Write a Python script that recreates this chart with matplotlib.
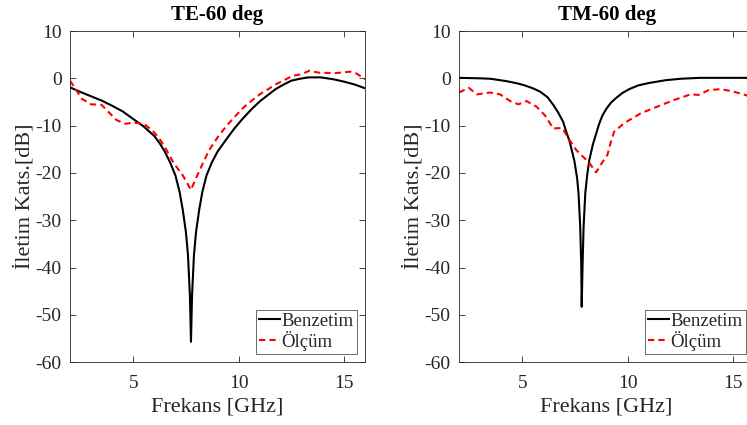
import numpy as np
import matplotlib.pyplot as plt

plt.rcParams['font.family'] = ['Liberation Serif', 'DejaVu Serif']
plt.rcParams['axes.unicode_minus'] = False

# TE-60 deg: simulasyon (benzetim) ve olcum degerleri
te_sim_f = [2, 2.5, 3, 3.5, 4, 4.5, 5, 5.5, 6, 6.25, 6.5, 6.75, 7.0, 7.2, 7.35, 7.5, 7.6,
            7.69, 7.74, 7.79, 7.88, 7.98, 8.13, 8.28, 8.48, 8.73, 9.0, 9.4, 9.8,
            10.2, 10.6, 11.0, 11.4, 11.75, 12.1, 12.5, 12.9, 13.3, 13.9, 14.5, 15.0,
            15.5, 16]
te_sim = [-1.9, -2.9, -3.8, -4.7, -5.8, -7.0, -8.6, -10.2, -12.2, -13.7, -15.5, -17.8,
          -20.5, -24.0, -27.8, -32.5, -37.5, -46.0, -55.7, -46.0, -37.5, -32.5, -27.8,
          -24.0, -20.5, -17.8, -15.5, -13.0, -10.6, -8.5, -6.6, -4.9, -3.5, -2.3, -1.4,
          -0.5, -0.1, 0.2, 0.2, -0.2, -0.7, -1.3, -2.1]
te_meas_f = [2, 2.3, 2.55, 3.0, 3.5, 3.8, 4.2, 4.6, 5.05, 5.5, 5.9, 6.2, 6.5, 6.9, 7.35,
             7.74, 7.97, 8.3, 8.6, 9.0, 9.4, 9.8, 10.2, 10.6, 11.0, 11.4, 11.75, 12.2,
             12.55, 13.0, 13.35, 13.8, 14.6, 15.3, 15.6, 16]
te_meas = [-0.5, -2.5, -4.3, -5.5, -5.6, -7.0, -8.8, -9.6, -9.4, -9.6, -11.0, -12.5,
           -14.5, -17.8, -20.5, -23.6, -21.2, -18.0, -15.2, -12.5, -10.2, -8.2, -6.3,
           -4.8, -3.4, -2.3, -1.3, -0.3, 0.5, 0.9, 1.6, 1.2, 1.1, 1.4, 1.0, -0.2]

# TM-60 deg
tm_sim_f = [2, 3, 3.5, 4.25, 4.7, 5.05, 5.5, 5.84, 6.2, 6.47, 6.7, 6.94, 7.08, 7.25, 7.47,
            7.6, 7.67, 7.75, 7.8, 7.82, 7.86, 7.91, 7.99, 8.08, 8.18, 8.35, 8.5, 8.65,
            8.8, 8.98, 9.2, 9.44, 9.75, 10.07, 10.5, 11.0, 11.8, 12.5, 13.4, 14.5, 15.6, 16]
tm_sim = [0.1, 0.0, -0.1, -0.6, -1.0, -1.4, -2.1, -2.8, -4.0, -5.6, -7.2, -9.2, -11.2,
          -13.4, -17.4, -21.0, -24.3, -31.4, -39.8, -48.3, -39.8, -31.4, -24.3, -20.5,
          -17.3, -14.0, -11.8, -9.6, -7.9, -6.5, -5.2, -4.2, -3.1, -2.3, -1.5, -1.0,
          -0.4, -0.1, 0.1, 0.1, 0.1, 0.0]
tm_meas_f = [2, 2.46, 2.85, 3.48, 3.95, 4.42, 4.82, 5.2, 5.68, 6.07, 6.47, 6.9, 7.24,
             7.57, 7.96, 8.2, 8.5, 8.82, 9.04, 9.2, 9.36, 9.83, 10.62, 11.4, 12.19,
             12.98, 13.37, 13.84, 14.39, 14.94, 15.57, 16]
tm_meas = [-3.0, -2.0, -3.4, -3.0, -3.4, -4.8, -5.5, -4.8, -6.0, -7.8, -10.6, -10.5,
           -13.0, -15.2, -16.9, -18.0, -19.9, -17.6, -16.2, -13.5, -11.3, -9.5, -7.4,
           -6.0, -4.6, -3.4, -3.5, -2.5, -2.3, -2.7, -3.5, -4.2]

titles = ['TE-60 deg', 'TM-60 deg']
xticks = [5, 10, 15]
yticks = [-60, -50, -40, -30, -20, -10, 0, 10]
grey = '#262626'

fig = plt.figure(figsize=(7.47, 4.25), dpi=100)
ax1 = fig.add_axes([0.0937, 0.148, 0.395, 0.779])
ax2 = fig.add_axes([0.6145, 0.148, 0.395, 0.779])

data = [(te_sim_f, te_sim, te_meas_f, te_meas), (tm_sim_f, tm_sim, tm_meas_f, tm_meas)]
for ax, title, (fs, s, fm, m) in zip([ax1, ax2], titles, data):
    ax.plot(fs, s, color='black', lw=1.5, label='Benzetim')
    ax.plot(fm, m, color='red', lw=1.5, ls=(0, (3, 2)), label='Ölçüm')
    ax.set_xlim(2, 16)
    ax.set_ylim(-60, 10)
    ax.set_xticks(xticks)
    ax.set_yticks(yticks)
    ax.tick_params(direction='in', top=True, right=True, length=4, width=0.6,
                   labelsize=14, colors=grey)
    ax.tick_params(axis='x', pad=9)
    ax.tick_params(axis='y', pad=6)
    for sp in ax.spines.values():
        sp.set_color(grey)
        sp.set_linewidth(0.6)
    ax.set_title(title, fontsize=15, fontweight='bold', pad=8)
    ax.set_xlabel('Frekans [GHz]', fontsize=16, color=grey, labelpad=4)
    ax.set_ylabel('İletim Kats.[dB]', fontsize=16, color=grey, labelpad=1)
    leg = ax.legend(loc='lower right', fontsize=13.5, frameon=True, fancybox=False,
                    handlelength=1.1, handletextpad=0.1, borderpad=0.15,
                    labelspacing=0.05, borderaxespad=0.45)
    leg.get_frame().set_edgecolor(grey)
    leg.get_frame().set_linewidth(0.6)
    for t in leg.get_texts():
        t.set_color(grey)

fig.savefig('out.png', dpi=100)
